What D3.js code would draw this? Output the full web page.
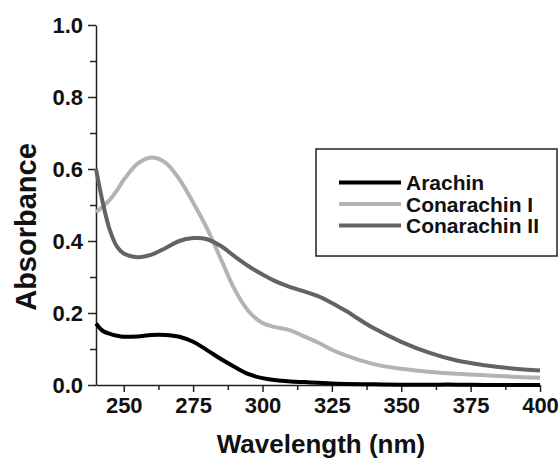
<!DOCTYPE html>
<html>
<head>
<meta charset="utf-8">
<script src="https://cdn.jsdelivr.net/npm/d3@7"></script>
<style>
  body { margin: 0; background: #fff; }
  text { font-family: "Liberation Sans", Arial, sans-serif; font-weight: bold; fill: #111; }
</style>
</head>
<body>
<script>
// wavelengths (nm) and absorbance
const wavelength = [240, 242.5, 245, 247.5, 250, 255, 260, 265, 270, 275, 280, 285, 290, 295,
                    300, 305, 310, 315, 320, 325, 330, 340, 350, 360, 370, 380, 390, 400];
const arachin = [0.171, 0.150, 0.142, 0.137, 0.134, 0.135, 0.139, 0.139, 0.134, 0.120, 0.097, 0.072, 0.050, 0.030,
                 0.019, 0.013, 0.010, 0.008, 0.006, 0.004, 0.003, 0.002, 0.001, 0.001, 0.001, 0.0, 0.0, 0.0];
const conarachinI = [0.480, 0.496, 0.515, 0.540, 0.570, 0.615, 0.632, 0.618, 0.572, 0.507, 0.435, 0.350, 0.265, 0.205,
                     0.172, 0.160, 0.152, 0.135, 0.118, 0.098, 0.082, 0.058, 0.045, 0.037, 0.031, 0.027, 0.023, 0.020];
const conarachinII = [0.600, 0.505, 0.430, 0.385, 0.365, 0.355, 0.362, 0.380, 0.400, 0.408, 0.405, 0.386, 0.357, 0.330,
                      0.307, 0.287, 0.272, 0.260, 0.247, 0.228, 0.206, 0.158, 0.120, 0.090, 0.068, 0.055, 0.046, 0.040];
const seriesNames = ["Arachin", "Conarachin I", "Conarachin II"];
const xTicks = [250, 275, 300, 325, 350, 375, 400];
const yTicks = [0.0, 0.2, 0.4, 0.6, 0.8, 1.0];

const colors = ["#000000", "#b3b3b3", "#636363"];
const series = [arachin, conarachinI, conarachinII];

const W = 560, H = 459;
const m = {left: 96, right: 20, top: 25, bottom: 74};

const svg = d3.select("body").append("svg")
  .attr("width", W)
  .attr("height", H);

const x = d3.scaleLinear().domain([240, 400]).range([m.left, W - m.right]);
const y = d3.scaleLinear().domain([0, 1]).range([H - m.bottom, m.top]);

// minor ticks
svg.append("g")
  .attr("transform", `translate(0,${H - m.bottom})`)
  .call(d3.axisBottom(x).tickValues(d3.range(262.5, 400, 25)).tickSize(5).tickFormat(""))
  .call(g => g.select(".domain").remove());
svg.append("g")
  .attr("transform", `translate(${m.left},0)`)
  .call(d3.axisLeft(y).tickValues([0.1, 0.3, 0.5, 0.7, 0.9]).tickSize(6).tickFormat(""))
  .call(g => g.select(".domain").remove());

const xAxis = svg.append("g")
  .attr("transform", `translate(0,${H - m.bottom})`)
  .call(d3.axisBottom(x).tickValues(xTicks).tickSize(7).tickSizeOuter(0).tickPadding(5).tickFormat(d3.format("d")));
const yAxis = svg.append("g")
  .attr("transform", `translate(${m.left},0)`)
  .call(d3.axisLeft(y).tickValues(yTicks).tickSize(8).tickSizeOuter(0).tickPadding(5).tickFormat(d3.format(".1f")));

[xAxis, yAxis].forEach(a => {
  a.selectAll("path, line").attr("stroke", "#222").attr("stroke-width", 1.5);
  a.selectAll("text").style("font-size", "22px").attr("fill", "#111");
});
svg.selectAll("g line").attr("stroke", "#222").attr("stroke-width", 1.5);

const line = d3.line()
  .x((d, i) => x(wavelength[i]))
  .y(d => y(d))
  .curve(d3.curveCatmullRom.alpha(0.5));

series.forEach((s, k) => {
  svg.append("path")
    .datum(s)
    .attr("fill", "none")
    .attr("stroke", colors[k])
    .attr("stroke-width", 4)
    .attr("stroke-linejoin", "round")
    .attr("d", line);
});

// axis titles
svg.append("text")
  .attr("x", 321)
  .attr("y", 452.5)
  .attr("text-anchor", "middle")
  .style("font-size", "26px")
  .text("Wavelength (nm)");
svg.append("text")
  .attr("transform", "translate(36,227) rotate(-90)")
  .attr("text-anchor", "middle")
  .style("font-size", "29px")
  .text("Absorbance");

// legend
const lg = svg.append("g");
lg.append("rect")
  .attr("x", 316).attr("y", 149)
  .attr("width", 241).attr("height", 107)
  .attr("fill", "#fff")
  .attr("stroke", "#222")
  .attr("stroke-width", 1.5);
seriesNames.forEach((name, k) => {
  const cy = 182.5 + k * 21.5;
  lg.append("line")
    .attr("x1", 339).attr("x2", 401)
    .attr("y1", cy).attr("y2", cy)
    .attr("stroke", colors[k])
    .attr("stroke-width", 4);
  lg.append("text")
    .attr("x", 406)
    .attr("y", cy + 7.5)
    .style("font-size", "21px")
    .text(name);
});
</script>
</body>
</html>
